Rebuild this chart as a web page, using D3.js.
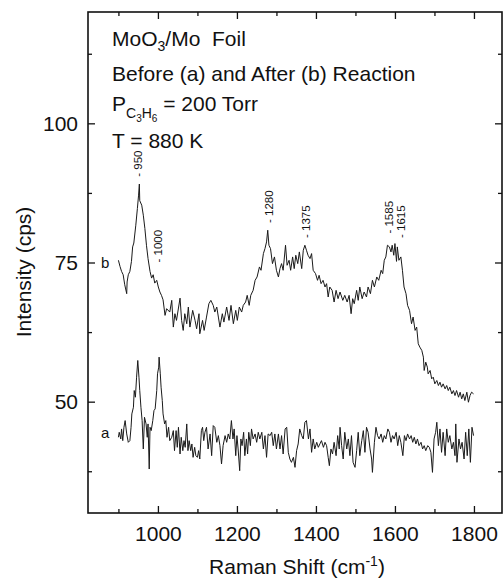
<!DOCTYPE html>
<html>
<head>
<meta charset="utf-8">
<script src="https://cdn.jsdelivr.net/npm/d3@7"></script>
<style>
  body { margin: 0; background: #fff; }
  text { font-family: "Liberation Sans", Arial, sans-serif; fill: #111; }
  .axis path { display: none; }
  .axis line { stroke: #111; stroke-width: 1.3; }
</style>
</head>
<body>
<div class="chart"></div>
<script>
// Raman spectra, MoO3/Mo foil: (a) before, (b) after reaction
var curveA = [
  [900,43.6],[902,44.5],[906,43.3],[908,45.1],[911,43.0],[914,45.4],[917,46.6],[921,44.2],[925,42.7],[929,43.0],
  [932,45.4],[934,47.8],[938,49.0],[940,52.0],[943,50.8],[946,54.4],[949,57.4],[952,54.4],[954,52.0],[957,49.0],
  [960,46.6],[963,41.5],[966,47.2],[970,46.0],[973,43.6],[975,46.0],[978,37.9],[980,45.4],[983,44.8],[987,46.6],
  [990,48.4],[993,48.7],[997,52.0],[999,55.0],[1002,56.2],[1003,58.0],[1006,55.0],[1008,52.6],[1011,50.2],[1013,47.8],
  [1017,46.0],[1020,46.6],[1023,43.6],[1027,45.4],[1030,43.0],[1035,43.6],[1039,44.8],[1042,41.2],[1046,44.8],[1049,41.8],
  [1052,45.4],[1056,40.6],[1059,43.6],[1063,41.2],[1066,43.0],[1069,41.8],[1073,46.0],[1076,41.2],[1079,43.0],[1083,41.2],
  [1086,42.4],[1089,40.0],[1093,41.8],[1096,40.3],[1100,40.0],[1103,41.2],[1106,39.7],[1110,44.8],[1113,45.4],[1116,43.0],
  [1119,44.5],[1123,45.4],[1127,41.5],[1132,44.2],[1136,40.3],[1140,45.7],[1144,45.4],[1149,42.7],[1153,43.9],[1157,42.1],
  [1161,38.8],[1165,42.1],[1170,43.9],[1174,42.7],[1178,44.2],[1182,43.3],[1186,46.6],[1190,43.3],[1193,45.1],[1197,40.3],
  [1200,43.9],[1203,41.5],[1207,37.6],[1210,43.3],[1213,42.1],[1217,44.5],[1220,40.3],[1224,43.3],[1227,40.6],[1230,44.5],
  [1234,42.1],[1237,45.1],[1241,43.3],[1246,44.2],[1250,42.7],[1254,44.5],[1258,43.3],[1263,44.5],[1267,41.5],[1271,43.9],
  [1275,40.0],[1279,44.2],[1284,43.9],[1288,44.5],[1292,42.1],[1296,44.2],[1300,41.5],[1305,44.2],[1309,41.5],[1313,43.9],
  [1317,40.6],[1322,45.1],[1326,45.4],[1330,40.9],[1334,39.7],[1338,39.1],[1343,40.0],[1347,38.2],[1351,41.2],[1355,42.4],
  [1359,45.1],[1364,43.9],[1368,43.3],[1372,46.3],[1376,46.6],[1381,43.3],[1385,45.1],[1389,40.9],[1393,43.3],[1397,41.5],
  [1402,42.7],[1406,41.8],[1410,42.4],[1414,43.0],[1419,41.8],[1423,42.7],[1427,42.1],[1431,40.0],[1434,38.5],[1438,41.5],
  [1442,40.6],[1446,42.7],[1451,40.3],[1455,43.9],[1459,41.5],[1461,45.4],[1465,42.1],[1469,39.7],[1473,44.5],[1478,41.5],
  [1482,43.3],[1486,40.3],[1490,43.9],[1494,39.1],[1499,38.2],[1503,41.2],[1507,44.5],[1511,40.3],[1516,43.0],[1520,44.8],
  [1524,40.9],[1528,45.4],[1532,44.5],[1537,41.5],[1541,39.7],[1543,37.3],[1548,42.7],[1552,45.4],[1556,43.9],[1560,43.3],
  [1565,44.2],[1569,42.7],[1573,43.9],[1577,43.3],[1582,45.1],[1586,44.5],[1590,42.7],[1594,43.9],[1598,43.3],[1603,44.5],
  [1607,42.1],[1611,43.9],[1615,42.7],[1620,40.3],[1624,43.9],[1628,43.0],[1632,44.2],[1637,43.3],[1641,43.9],[1645,42.7],
  [1649,43.6],[1653,42.4],[1657,43.3],[1661,42.1],[1666,42.7],[1670,41.5],[1674,42.1],[1678,41.2],[1683,42.1],[1687,41.8],
  [1691,40.9],[1695,37.3],[1699,43.3],[1703,44.5],[1706,46.3],[1710,42.1],[1714,45.1],[1718,40.9],[1722,44.5],[1727,40.3],
  [1731,45.1],[1735,42.7],[1739,43.9],[1744,41.5],[1748,42.7],[1752,40.3],[1754,46.0],[1757,39.1],[1762,43.3],[1766,41.5],
  [1770,42.7],[1775,39.7],[1779,44.5],[1783,40.3],[1787,45.1],[1791,39.1],[1795,45.4],[1799,43.9]
];

var curveB = [
  [900,75.4],[904,74.3],[908,73.4],[912,72.8],[916,71.0],[921,69.4],[922,71.5],[925,72.8],[929,73.4],[933,75.2],
  [936,77.8],[939,78.5],[944,81.7],[948,84.7],[951,87.1],[953,89.1],[954,86.1],[959,85.3],[963,83.5],[967,81.1],
  [971,78.1],[975,75.7],[980,73.4],[984,72.2],[988,72.8],[992,71.3],[997,71.8],[1001,70.6],[1005,69.7],[1009,69.1],
  [1013,68.3],[1018,65.5],[1022,66.7],[1030,66.1],[1035,68.2],[1039,63.4],[1043,65.8],[1047,64.6],[1056,68.6],[1060,64.6],
  [1064,62.8],[1068,65.8],[1073,64.0],[1077,67.0],[1081,63.4],[1088,66.4],[1094,64.6],[1098,63.1],[1104,65.8],[1106,62.2],
  [1113,64.6],[1117,62.8],[1123,65.2],[1129,67.6],[1134,68.2],[1140,67.3],[1144,66.1],[1149,67.0],[1153,65.2],[1157,63.4],
  [1163,65.8],[1167,64.3],[1174,67.0],[1180,64.6],[1185,67.3],[1191,64.0],[1197,66.4],[1201,64.6],[1206,67.0],[1212,66.1],
  [1216,67.3],[1222,67.9],[1226,69.1],[1231,67.3],[1235,69.1],[1241,70.0],[1246,71.8],[1251,72.4],[1257,74.2],[1261,73.6],
  [1267,76.6],[1271,77.5],[1275,78.7],[1278,80.8],[1281,78.1],[1285,77.5],[1290,74.8],[1295,76.0],[1300,73.6],[1305,72.4],
  [1309,73.9],[1313,74.8],[1317,73.6],[1323,78.1],[1327,74.5],[1332,75.4],[1336,73.6],[1341,76.0],[1345,73.9],[1349,76.3],
  [1354,74.8],[1358,76.9],[1364,73.9],[1368,77.2],[1372,78.1],[1376,77.2],[1380,76.3],[1385,75.7],[1389,76.6],[1393,73.6],
  [1399,73.0],[1404,71.8],[1408,72.7],[1413,71.2],[1418,71.8],[1423,70.6],[1427,71.2],[1431,68.8],[1435,70.6],[1441,70.0],
  [1446,67.9],[1451,70.0],[1456,68.5],[1461,69.7],[1468,68.2],[1473,69.1],[1479,67.9],[1484,69.1],[1489,65.8],[1493,68.5],
  [1497,67.6],[1503,70.0],[1507,68.2],[1511,70.6],[1517,68.5],[1522,69.7],[1528,68.8],[1532,70.6],[1538,69.4],[1543,71.8],
  [1548,70.6],[1554,72.4],[1559,71.8],[1565,73.6],[1569,73.0],[1573,75.4],[1577,76.0],[1581,78.1],[1586,77.8],[1590,76.9],
  [1593,78.1],[1597,76.3],[1600,78.4],[1604,75.2],[1606,77.8],[1610,75.4],[1615,76.0],[1619,73.6],[1623,70.6],[1628,69.4],
  [1632,67.3],[1637,66.4],[1642,64.0],[1646,65.2],[1651,62.8],[1655,63.4],[1659,60.4],[1663,59.8],[1668,59.2],[1672,58.0],
  [1674,55.6],[1678,57.1],[1682,56.2],[1684,55.0],[1689,55.6],[1693,54.1],[1697,54.4],[1701,53.2],[1706,53.8],[1710,52.9],
  [1714,53.5],[1718,52.6],[1722,53.2],[1727,52.3],[1731,52.9],[1735,52.0],[1739,52.6],[1744,51.4],[1748,52.0],[1752,51.1],
  [1756,52.0],[1761,50.8],[1765,51.7],[1769,50.5],[1773,51.4],[1777,50.2],[1782,51.7],[1786,49.9],[1790,51.1],[1794,51.7],
  [1799,51.4]
];

// peak labels on curve b (shift, intensity where the label starts)
var peakShifts = [950, 1000, 1280, 1375, 1585, 1615];
var peakLabelAt = [90.4, 75.0, 82.1, 79.4, 80.2, 79.4];

var xTicks = [1000, 1200, 1400, 1600, 1800];
var xMinorTicks = [900, 1100, 1300, 1500, 1700];
var yTicks = [50, 75, 100];
var yMinorTicks = [37.5, 62.5, 87.5, 112.5];

var svgWidth = 503;
var svgHeight = 580;

var margin = { top: 12, right: 1, bottom: 67, left: 88 };
var width = svgWidth - margin.left - margin.right;
var height = svgHeight - margin.top - margin.bottom;

var svg = d3.select(".chart")
  .append("svg")
  .attr("width", svgWidth)
  .attr("height", svgHeight);

var chartGroup = svg.append("g")
  .attr("transform", `translate(${margin.left}, ${margin.top})`);

var xScale = d3.scaleLinear().domain([823, 1871]).range([0, width]);
var yScale = d3.scaleLinear().domain([30, 120]).range([height, 0]);

// ticks point inward on all four sides
function addAxis(axisFn, scale, values, size, transform, labels) {
  var ax = axisFn(scale).tickValues(values).tickSizeInner(-size).tickSizeOuter(0);
  ax.tickFormat(labels ? d3.format("d") : "");
  var g = chartGroup.append("g")
    .attr("class", "axis")
    .attr("transform", transform)
    .call(ax);
  g.selectAll("text").style("font-size", "20px").style("fill", "#111");
  return g;
}

var xb = addAxis(d3.axisBottom, xScale, xTicks, 7, `translate(0, ${height})`, true);
xb.selectAll("text").attr("y", 13).style("font-size", "21px");
addAxis(d3.axisBottom, xScale, xMinorTicks, 4, `translate(0, ${height})`, false);
addAxis(d3.axisTop, xScale, xTicks, 7, "translate(0,0)", false);
addAxis(d3.axisTop, xScale, xMinorTicks, 4, "translate(0,0)", false);

var yl = addAxis(d3.axisLeft, yScale, yTicks, 7, "translate(0,0)", true);
yl.selectAll("text").attr("x", -10).style("font-size", "21px");
addAxis(d3.axisLeft, yScale, yMinorTicks, 4, "translate(0,0)", false);
addAxis(d3.axisRight, yScale, yTicks, 7, `translate(${width}, 0)`, false);
addAxis(d3.axisRight, yScale, yMinorTicks, 4, `translate(${width}, 0)`, false);

// frame
chartGroup.append("rect")
  .attr("width", width)
  .attr("height", height)
  .attr("fill", "none")
  .attr("stroke", "#111")
  .attr("stroke-width", 1.6);

// spectra
var line = d3.line()
  .x(d => xScale(d[0]))
  .y(d => yScale(d[1]));

[curveA, curveB].forEach(function(curve) {
  chartGroup.append("path")
    .datum(curve)
    .attr("d", line)
    .attr("fill", "none")
    .attr("stroke", "#1a1a1a")
    .attr("stroke-width", 1)
    .attr("stroke-linejoin", "round");
});

// curve names
chartGroup.append("text")
  .attr("x", 13).attr("y", yScale(75))
  .attr("dy", "0.35em")
  .style("font-size", "15px")
  .text("b");

chartGroup.append("text")
  .attr("x", 13).attr("y", yScale(44.5))
  .attr("dy", "0.35em")
  .style("font-size", "15px")
  .text("a");

// vertical peak labels
chartGroup.selectAll(".peak")
  .data(peakShifts)
  .enter()
  .append("text")
  .attr("class", "peak")
  .attr("transform", (d, i) => `translate(${xScale(d)}, ${yScale(peakLabelAt[i])}) rotate(-90)`)
  .attr("dy", "0.35em")
  .style("font-size", "11.5px")
  .text(d => "- " + d);

// conditions block
var note = chartGroup.append("g").attr("transform", "translate(24, 0)");

var t1 = note.append("text").attr("y", 34).style("font-size", "21px");
t1.append("tspan").text("MoO");
t1.append("tspan").attr("dy", 5).style("font-size", "14px").text("3");
t1.append("tspan").attr("dy", -5).text("/Mo\u00a0\u00a0Foil");

note.append("text").attr("y", 69).style("font-size", "21px")
  .text("Before (a) and After (b) Reaction");

var t3 = note.append("text").attr("y", 99).style("font-size", "21px");
t3.append("tspan").text("P");
t3.append("tspan").attr("dy", 7).style("font-size", "14px").text("C");
t3.append("tspan").attr("dy", 4).style("font-size", "10px").text("3");
t3.append("tspan").attr("dy", -4).style("font-size", "14px").text("H");
t3.append("tspan").attr("dy", 4).style("font-size", "10px").text("6");
t3.append("tspan").attr("dy", -11).text(" = 200 Torr");

note.append("text").attr("y", 136).style("font-size", "21px")
  .text("T = 880 K");

// axis titles
var xt = svg.append("text")
  .attr("x", 297)
  .attr("y", 574)
  .attr("text-anchor", "middle")
  .style("font-size", "21px");
xt.append("tspan").text("Raman Shift (cm");
xt.append("tspan").attr("dy", -8).style("font-size", "14px").text("-1");
xt.append("tspan").attr("dy", 8).text(")");

svg.append("text")
  .attr("transform", "translate(31, 272) rotate(-90)")
  .attr("text-anchor", "middle")
  .style("font-size", "21px")
  .text("Intensity (cps)");
</script>
</body>
</html>
